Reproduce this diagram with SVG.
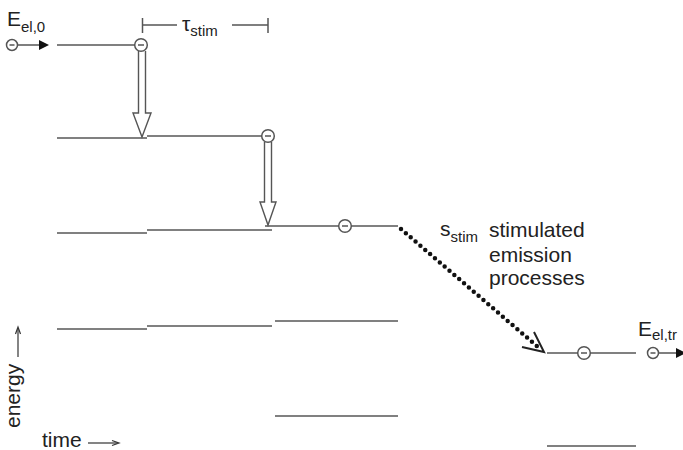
<svg xmlns="http://www.w3.org/2000/svg" width="683" height="450" viewBox="0 0 683 450">
<defs>
<style>
.lvl{stroke:#808080;stroke-width:2;fill:none}
.thin{stroke:#555;stroke-width:1.5;fill:none}
.el{fill:#fff;stroke:#555;stroke-width:1.5}
.minus{stroke:#555;stroke-width:1.5}
.hollow{fill:#fff;stroke:#555;stroke-width:1.4;stroke-linejoin:miter}
.t{font-family:"Liberation Sans",Arial,sans-serif;fill:#222;font-size:21px}
.s{font-size:15px}
</style>
<g id="electron"><circle class="el" cx="0" cy="0" r="6.3"/><line class="minus" x1="-3" y1="0" x2="3" y2="0"/></g>
<g id="electronS"><circle class="el" cx="0" cy="0" r="5.5"/><line class="minus" x1="-2.5" y1="0" x2="2.5" y2="0"/></g>
</defs>
<rect width="683" height="450" fill="#fff"/>

<g id="levels">
<line class="lvl" x1="57" y1="45" x2="135" y2="45"/>
<line class="lvl" x1="57" y1="138" x2="147" y2="138"/>
<line class="lvl" x1="57" y1="233" x2="147" y2="233"/>
<line class="lvl" x1="57" y1="329" x2="147" y2="329"/>
<line class="lvl" x1="147" y1="136" x2="262" y2="136"/>
<line class="lvl" x1="147" y1="230" x2="272" y2="230"/>
<line class="lvl" x1="147" y1="326" x2="272" y2="326"/>
<line class="lvl" x1="265" y1="226" x2="398" y2="226"/>
<line class="lvl" x1="275" y1="321" x2="398" y2="321"/>
<line class="lvl" x1="275" y1="416" x2="398" y2="416"/>
<line class="lvl" x1="547" y1="353" x2="636" y2="353"/>
<line class="lvl" x1="547" y1="446" x2="636" y2="446"/>
</g>

<g id="connectors">
<path class="hollow" d="M138.5,51 V113 H133 L142,137 L151,113 H145.5 V51"/>
<path class="hollow" d="M264.5,142 V202 H260 L268,225 L276,202 H271.5 V142"/>
<path d="M401,229 L538,347" stroke="#111" stroke-width="4.5" stroke-linecap="round" stroke-dasharray="0 6.4" fill="none"/>
<polyline points="534,332 544,352 522,347" fill="none" stroke="#222" stroke-width="2"/>
<line class="thin" x1="18" y1="45" x2="40" y2="45"/>
<polygon points="39,40 49,45 39,50" fill="#111"/>
<line class="thin" x1="658" y1="353" x2="677" y2="353"/>
<polygon points="676,348 686,353 676,358" fill="#111"/>
</g>

<g id="e1"><use href="#electronS" x="12" y="45"/></g>
<g id="e2"><use href="#electron" x="141" y="45"/></g>
<g id="e3"><use href="#electron" x="268" y="136"/></g>
<g id="e4"><use href="#electron" x="345" y="226"/></g>
<g id="e5"><use href="#electron" x="584" y="353"/></g>
<g id="e6"><use href="#electronS" x="653" y="353"/></g>

<g id="tau">
<line class="thin" x1="142.5" y1="18" x2="142.5" y2="33"/>
<line class="thin" x1="142.5" y1="25" x2="177" y2="25"/>
<line class="thin" x1="232" y1="25" x2="268" y2="25"/>
<line class="thin" x1="268" y1="18" x2="268" y2="33"/>
<text class="t" x="182" y="31" font-size="22">τ<tspan class="s" font-size="18" dy="5">stim</tspan></text>
</g>

<g id="label-e0"><text class="t" x="7" y="26" font-size="23">E<tspan class="s" font-size="17" dy="6">el,0</tspan></text></g>
<g id="label-etr"><text class="t" x="638" y="336" font-size="23">E<tspan class="s" font-size="17" dy="4">el,tr</tspan></text></g>

<g id="label-stim">
<text class="t" x="440" y="236">s<tspan class="s" dy="6">stim</tspan></text>
<text class="t" x="489" y="237">stimulated</text>
<text class="t" x="489" y="262">emission</text>
<text class="t" x="489" y="285">processes</text>
</g>

<g id="axes">
<text class="t" transform="translate(20,428) rotate(-90)" font-size="22">energy</text>
<line x1="18" y1="357" x2="18" y2="328" stroke="#333" stroke-width="1.2"/>
<polyline points="15.5,334 18,327 20.5,334" fill="none" stroke="#333" stroke-width="1.2"/>
<text class="t" x="42" y="447">time</text>
<line x1="88" y1="443" x2="118" y2="443" stroke="#333" stroke-width="1.2"/>
<polyline points="112,440.5 119,443 112,445.5" fill="none" stroke="#333" stroke-width="1.2"/>
</g>
</svg>
